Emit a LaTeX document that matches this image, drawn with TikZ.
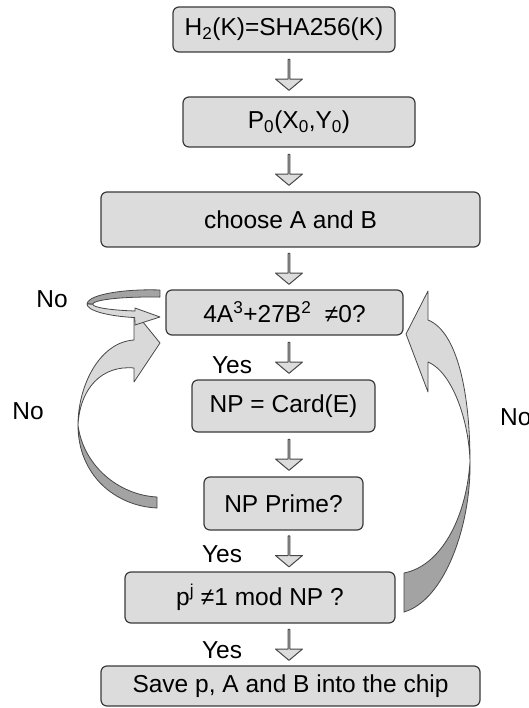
\documentclass[tikz,border=0pt]{standalone}
\usepackage{fontspec}
\setmainfont{Liberation Sans}
\usetikzlibrary{shapes.arrows,calc,positioning}
\definecolor{boxfill}{HTML}{DCDCDC}
\definecolor{boxline}{HTML}{3A3A3A}
\definecolor{ribbonlight}{HTML}{D9D9D9}
\definecolor{ribbondark}{HTML}{A3A3A3}
\definecolor{ribbonline}{HTML}{474747}
\tikzset{
	flow chart/.style={
		x=1pt, y=-1pt,
		font=\fontsize{24.5}{29}\selectfont,
		line join=round},
	stepbox/.style={draw=boxline, fill=boxfill, rounded corners=6pt,
		line width=1.2pt, inner sep=0pt},
	downarrow/.style={single arrow, draw=ribbonline, fill=boxfill,
		line width=1pt, rotate=-90, inner sep=0pt,
		minimum height=31pt, minimum width=27pt,
		single arrow head extend=7.5pt, single arrow tip angle=100},
	front/.style={fill=ribbonlight, draw=ribbonline, line width=0.8pt},
	back/.style={fill=ribbondark, draw=ribbonline, line width=0.8pt},
	answer/.style={inner sep=0pt, anchor=base}
}

\begin{document}
\begin{tikzpicture}[flow chart]
	\useasboundingbox (0,0) rectangle (528,708);
	% the steps
	\node[stepbox, minimum width=222pt, minimum height=45pt] (hash) at (284,29.5) {H\textsubscript{2}(K)=SHA256(K)};
	\node[stepbox, minimum width=232pt, minimum height=50pt] (point) at (299,122) {P\textsubscript{0}(X\textsubscript{0},Y\textsubscript{0})};
	\node[stepbox, minimum width=379pt, minimum height=55pt] (choose) at (290.5,219.5) {choose A and B};
	\node[stepbox, minimum width=237pt, minimum height=45pt] (disc) at (284.5,312.5) {4A\textsuperscript{3}+27B\textsuperscript{2}\ \ ≠0?};
	\node[stepbox, minimum width=183pt, minimum height=52pt] (card) at (283.5,406) {NP = Card(E)};
	\node[stepbox, minimum width=159pt, minimum height=53pt] (prime) at (283.5,503.5) {NP Prime?};
	\node[stepbox, minimum width=270pt, minimum height=51pt] (order) at (260,597.5) {p\textsuperscript{j} ≠1 mod NP ?};
	\node[stepbox, minimum width=379pt, minimum height=40pt] (save) at (290.5,686) {Save p, A and B into the chip};
	% block arrows between the steps
	\foreach \from/\to/\name in {hash/point/a1, point/choose/a2, choose/disc/a3,
			disc/card/a4, card/prime/a5, prime/order/a6, order/save/a7} {
		\path ($(\from.south)!.5!(\to.north)$) coordinate (\name-mid);
		\node[downarrow] (\name) at (289,0 |- \name-mid) {};
	}
	% curved arrow back from the order test
	\path[back] (470,462) .. controls (471,525) and (445,600) .. (404,612)
		-- (404,573) .. controls (440,566) and (466,520) .. (470,462) -- cycle;
	\path[front] (470,462) .. controls (469,420) and (452,372) .. (428,362)
		-- (428,392) -- (406,334) -- (428,291) -- (428,320)
		.. controls (458,332) and (470,395) .. (470,462) -- cycle;
	% curved arrow back from the prime test
	\path[back] (78,425) .. controls (78,475) and (115,506) .. (157,508)
		-- (157,497) .. controls (118,495) and (83,465) .. (78,425) -- cycle;
	\path[front] (78,425) .. controls (80,388) and (102,365) .. (134,368)
		-- (134,382) -- (160,343) -- (134,311) -- (134,340)
		.. controls (100,342) and (78,385) .. (78,425) -- cycle;
	% loop on the discriminant test
	\path[back] (160,290) arc[start angle=-81, end angle=-180, x radius=63, y radius=14]
		-- (93,304) arc[start angle=-180, end angle=-80, x radius=57, y radius=7] -- cycle;
	\path[front] (87,304) arc[start angle=180, end angle=104, x radius=63, y radius=14]
		-- (135,325) -- (160,317) -- (135,308) -- (135,311)
		arc[start angle=105, end angle=180, x radius=57, y radius=7] -- cycle;
	% answers
	\node[answer] (no1) at (52,307) {No};
	\node[answer] (no2) at (28,419) {No};
	\node[answer, anchor=base west] (no3) at (500,425) {No};
	\node[answer] (yes1) at (232,373) {Yes};
	\node[answer] (yes2) at (222,562) {Yes};
	\node[answer] (yes3) at (222,658) {Yes};
\end{tikzpicture}
\end{document}
